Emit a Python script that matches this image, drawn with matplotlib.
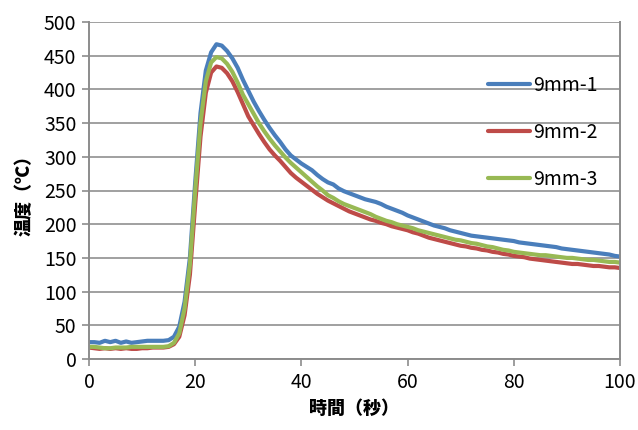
import numpy as np
import matplotlib
matplotlib.use("Agg")
import matplotlib.pyplot as plt

plt.rcParams['font.family'] = ['Noto Sans CJK JP', 'DejaVu Sans']

time_s = list(range(0, 101))

s1_label = "9mm-1"
s1 = [25, 25, 24, 27, 25, 27, 24, 26, 24, 25, 26, 27, 27, 27, 27, 28,
      33, 48, 85, 150, 262, 365, 428, 455, 467, 465, 457, 446, 432, 414,
      398, 382, 368, 355, 343, 332, 322, 311, 302, 296, 290, 285, 280, 273,
      267, 262, 259, 253, 249, 246, 243, 240, 237, 235, 233, 230, 226, 223,
      220, 217, 213, 210, 207, 204, 201, 198, 196, 194, 191, 189, 187, 185,
      183, 182, 181, 180, 179, 178, 177, 176, 175, 173, 172, 171, 170, 169,
      168, 167, 166, 164, 163, 162, 161, 160, 159, 158, 157, 156, 155, 153, 152]

s2_label = "9mm-2"
s2 = [17, 16, 15, 16, 15, 16, 15, 16, 15, 15, 16, 16, 17, 17, 17, 18,
      22, 33, 65, 125, 230, 330, 395, 425, 434, 432, 424, 412, 396, 378,
      360, 347, 334, 322, 311, 302, 294, 285, 276, 269, 263, 257, 251, 245,
      240, 235, 231, 227, 223, 219, 216, 213, 210, 207, 205, 202, 200, 197,
      195, 193, 191, 188, 186, 183, 180, 178, 176, 174, 172, 170, 168, 167,
      165, 164, 162, 161, 159, 158, 156, 155, 153, 152, 151, 149, 148, 147,
      146, 145, 144, 143, 142, 141, 141, 140, 139, 138, 138, 137, 136, 136, 135]

s3_label = "9mm-3"
s3 = [18, 18, 17, 16, 16, 17, 17, 17, 18, 18, 18, 18, 18, 18, 18, 19,
      24, 38, 75, 140, 250, 350, 412, 440, 448, 446, 438, 426, 410, 392,
      378, 364, 350, 338, 327, 317, 308, 299, 291, 284, 277, 270, 263, 256,
      250, 243, 239, 234, 230, 227, 224, 221, 218, 215, 211, 208, 205, 203,
      200, 198, 196, 194, 191, 189, 187, 185, 183, 181, 179, 177, 176, 174,
      172, 171, 169, 167, 166, 164, 162, 161, 159, 158, 157, 156, 155, 154,
      154, 153, 152, 151, 150, 150, 149, 148, 147, 147, 146, 145, 144, 144, 143]

x_label = "時間（秒）"
y_label = "温度（℃）"
x_ticks = [0, 20, 40, 60, 80, 100]
y_ticks = [0, 50, 100, 150, 200, 250, 300, 350, 400, 450, 500]

colors = ["#4A7EBB", "#BE4B48", "#98B954"]

fig = plt.figure(figsize=(6.38, 4.30), dpi=100)
ax = fig.add_axes([89/638, 1 - 359/430, (620-89)/638, (359-22)/430])

for y, lab, c in zip([s1, s2, s3], [s1_label, s2_label, s3_label], colors):
    ax.plot(time_s, y, color=c, lw=3.0, label=lab, solid_capstyle='round', solid_joinstyle='round')

ax.set_xlim(0, 100)
ax.set_ylim(0, 500)
ax.set_xticks(x_ticks)
ax.set_yticks(y_ticks)
ax.yaxis.grid(True, color="#A0A0A0", lw=1.4)
ax.set_axisbelow(True)
for side in ["left", "bottom", "right"]:
    ax.spines[side].set_color("#8C8C8C")
    ax.spines[side].set_linewidth(1.4)
ax.spines["top"].set_visible(False)
ax.tick_params(axis="both", direction="out", length=5, width=1.2, color="#8C8C8C",
               labelsize=14, pad=4)

ax.set_xlabel(x_label, fontsize=13, fontweight="heavy", labelpad=5)
ax.set_ylabel(y_label, fontsize=13, fontweight="heavy", labelpad=7)

leg = ax.legend(loc="upper left", bbox_to_anchor=(0.718, 0.895), frameon=False,
                fontsize=14, handlelength=2.15, handletextpad=0.2, labelspacing=1.33)
for line in leg.get_lines():
    line.set_linewidth(3.0)

fig.savefig("out.png", dpi=100)
